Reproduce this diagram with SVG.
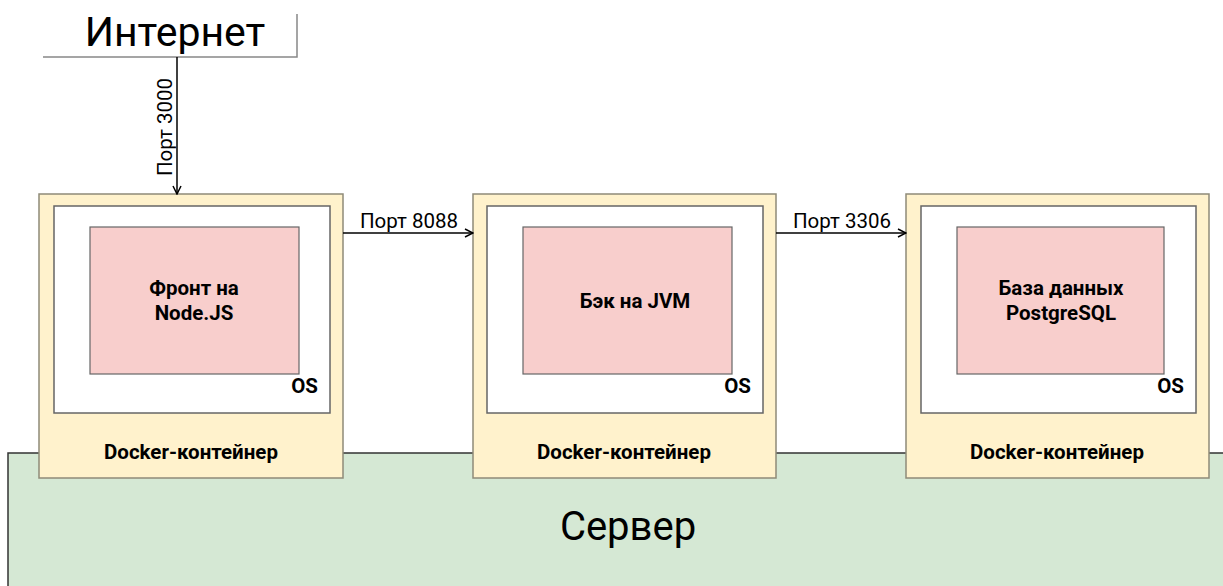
<svg xmlns="http://www.w3.org/2000/svg" width="1223" height="586" viewBox="0 0 1223 586">
<style>
.t{font-family:Roboto,"Liberation Sans",sans-serif;fill:#000}
.b{font-weight:bold;font-size:20.5px}
.p{font-size:20.5px}
.docker{fill:#fff2cc;stroke:#8f8a78;stroke-width:1.5}
.os{fill:#fff;stroke:#666;stroke-width:1.5}
.app{fill:#f8cecc;stroke:#666;stroke-width:1.2}
.conn{stroke:#000;stroke-width:1.5;fill:none}
</style>
<defs>
<marker id="arr" viewBox="0 0 10 10" refX="9" refY="5" markerWidth="10" markerHeight="10" markerUnits="userSpaceOnUse" orient="auto">
<path d="M1,1 L9,5 L1,9" fill="none" stroke="#000" stroke-width="1.5"/>
</marker>
</defs>
<rect width="1223" height="586" fill="#fff"/>
<g id="server">
<rect x="8" y="453" width="1225" height="150" fill="#d5e8d4" stroke="#333" stroke-width="1.5"/>
<text class="t" x="628" y="540" font-size="40" text-anchor="middle">Сервер</text>
</g>
<g id="internet">
<path d="M43,57 H297 V14" fill="none" stroke="#888" stroke-width="1.5"/>
<text class="t" x="175" y="46" font-size="41" text-anchor="middle">Интернет</text>
</g>
<g id="container1">
<rect class="docker" x="39" y="194" width="304" height="284"/>
<rect class="os" x="54" y="206" width="276" height="207"/>
<rect class="app" x="90" y="227" width="209" height="147"/>
<text class="t b" x="194" y="295" text-anchor="middle">Фронт на</text>
<text class="t b" x="194" y="320" text-anchor="middle">Node.JS</text>
<text class="t b" x="318" y="393" text-anchor="end">OS</text>
<text class="t b" x="191" y="459" text-anchor="middle">Docker-контейнер</text>
</g>
<g id="container2">
<rect class="docker" x="473" y="194" width="303" height="284"/>
<rect class="os" x="487" y="206" width="276" height="207"/>
<rect class="app" x="523" y="227" width="209" height="147"/>
<text class="t b" x="635" y="308" text-anchor="middle">Бэк на JVM</text>
<text class="t b" x="751" y="393" text-anchor="end">OS</text>
<text class="t b" x="624" y="459" text-anchor="middle">Docker-контейнер</text>
</g>
<g id="container3">
<rect class="docker" x="906" y="194" width="303" height="284"/>
<rect class="os" x="921" y="206" width="275" height="207"/>
<rect class="app" x="957" y="227" width="207" height="147"/>
<text class="t b" x="1061" y="295" text-anchor="middle">База данных</text>
<text class="t b" x="1061" y="320" text-anchor="middle">PostgreSQL</text>
<text class="t b" x="1184" y="393" text-anchor="end">OS</text>
<text class="t b" x="1057" y="459" text-anchor="middle">Docker-контейнер</text>
</g>
<g id="connectors">
<line class="conn" x1="177" y1="57" x2="177" y2="194" marker-end="url(#arr)"/>
<text class="t p" transform="translate(172,127) rotate(-90)" text-anchor="middle">Порт 3000</text>
<line class="conn" x1="343" y1="233" x2="473" y2="233" marker-end="url(#arr)"/>
<text class="t p" x="409" y="228" text-anchor="middle">Порт 8088</text>
<line class="conn" x1="776" y1="233" x2="906" y2="233" marker-end="url(#arr)"/>
<text class="t p" x="842" y="228" text-anchor="middle">Порт 3306</text>
</g>
</svg>
